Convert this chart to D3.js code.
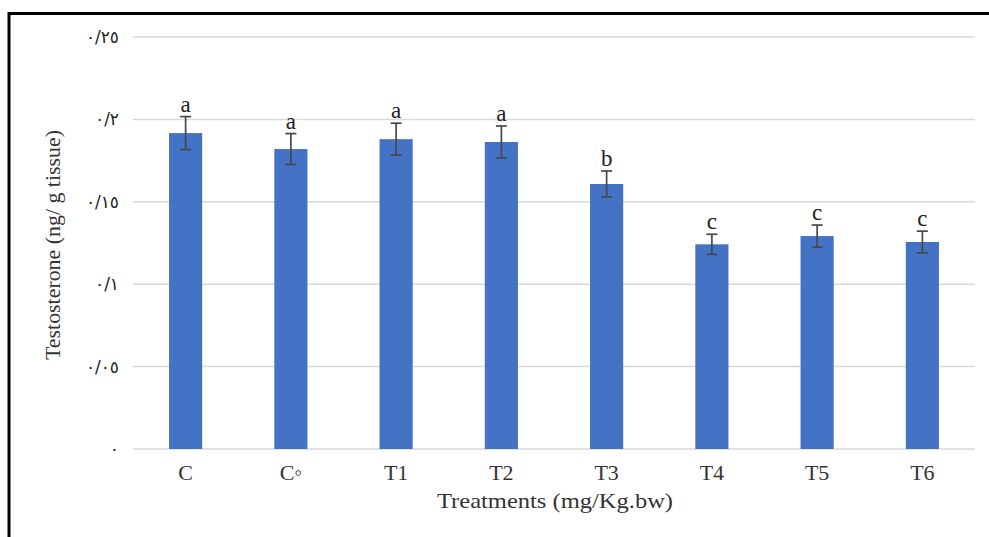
<!DOCTYPE html>
<html>
<head>
<meta charset="utf-8">
<script src="https://cdn.jsdelivr.net/npm/d3@7"></script>
<style>
  body { margin: 0; background: #fff; }
  svg text { font-family: "Liberation Serif", "Times New Roman", serif; }
</style>
</head>
<body>
<div id="chart"></div>
<script>
// data
var categories = ["C", "C\u25E6", "T1", "T2", "T3", "T4", "T5", "T6"];
var means      = [0.1917, 0.1820, 0.1880, 0.1863, 0.1608, 0.1242, 0.1292, 0.1256];
var errors     = [0.0100, 0.0094, 0.0097, 0.0097, 0.0079, 0.0061, 0.0067, 0.0066];
var letters    = ["a", "a", "a", "a", "b", "c", "c", "c"];
var yTicks     = [0, 0.05, 0.1, 0.15, 0.2, 0.25];
var yTickLabels = ["\u0660", "\u0660/\u0660\u0665", "\u0660/\u0661", "\u0660/\u0661\u0665", "\u0660/\u0662", "\u0660/\u0662\u0665"];

var width = 989, height = 537;
var margin = {left: 133, right: 14, top: 37, bottom: 88};

var svg = d3.select("#chart").append("svg")
    .attr("width", width).attr("height", height);

var x = d3.scaleBand().domain(categories)
    .range([margin.left, width - margin.right])
    .paddingInner(0.685).paddingOuter(0.3425);
var y = d3.scaleLinear().domain([0, 0.25])
    .range([height - margin.bottom, margin.top]);

// gridlines
svg.append("g").selectAll("line").data(yTicks).enter().append("line")
    .attr("x1", margin.left).attr("x2", width - margin.right)
    .attr("y1", function(d){ return y(d); }).attr("y2", function(d){ return y(d); })
    .style("stroke", "#d9d9d9").style("stroke-width", 1.5);

// y tick labels
svg.append("g").selectAll("text").data(yTicks).enter().append("text")
    .attr("x", 119).attr("y", function(d){ return y(d) + 6; })
    .attr("text-anchor", "end")
    .style("font-family", "'DejaVu Sans', sans-serif")
    .style("font-size", "17px").style("letter-spacing", "2.5px").style("fill", "#222")
    .text(function(d, i){ return yTickLabels[i]; });

// bars
svg.append("g").selectAll("rect").data(means).enter().append("rect")
    .attr("x", function(d, i){ return x(categories[i]); })
    .attr("y", function(d){ return y(d); })
    .attr("width", x.bandwidth())
    .attr("height", function(d){ return y(0) - y(d); })
    .style("fill", "#4472C4");

// error bars
var eb = svg.append("g").selectAll("g").data(means).enter().append("g")
    .style("stroke", "#484848").style("stroke-width", 1.7);
eb.append("line")
    .attr("x1", function(d, i){ return x(categories[i]) + x.bandwidth() / 2; })
    .attr("x2", function(d, i){ return x(categories[i]) + x.bandwidth() / 2; })
    .attr("y1", function(d, i){ return y(d + errors[i]); })
    .attr("y2", function(d, i){ return y(d - errors[i]); });
[1, -1].forEach(function(s){
  eb.append("line")
    .attr("x1", function(d, i){ return x(categories[i]) + x.bandwidth() / 2 - 5.5; })
    .attr("x2", function(d, i){ return x(categories[i]) + x.bandwidth() / 2 + 5.5; })
    .attr("y1", function(d, i){ return y(d + s * errors[i]); })
    .attr("y2", function(d, i){ return y(d + s * errors[i]); });
});

// significance letters
svg.append("g").selectAll("text").data(means).enter().append("text")
    .attr("x", function(d, i){ return x(categories[i]) + x.bandwidth() / 2; })
    .attr("y", function(d, i){ return y(d + errors[i]) - 5; })
    .attr("text-anchor", "middle")
    .style("font-size", "23px").style("fill", "#222")
    .text(function(d, i){ return letters[i]; });

// x axis labels
svg.append("g").selectAll("text").data(categories).enter().append("text")
    .attr("x", function(d){ return x(d) + x.bandwidth() / 2; })
    .attr("y", 480)
    .attr("text-anchor", "middle")
    .style("font-size", "22px").style("fill", "#333")
    .text(function(d){ return d; });

// axis titles
svg.append("text").attr("x", 555).attr("y", 508)
    .attr("text-anchor", "middle")
    .attr("textLength", 236).attr("lengthAdjust", "spacingAndGlyphs")
    .style("font-size", "22px").style("fill", "#333")
    .text("Treatments (mg/Kg.bw)");
svg.append("text")
    .attr("transform", "translate(60,245) rotate(-90)")
    .attr("text-anchor", "middle")
    .attr("textLength", 230).attr("lengthAdjust", "spacingAndGlyphs")
    .style("font-size", "22px").style("fill", "#333")
    .text("Testosterone (ng/ g tissue)");

// frame
svg.append("path")
    .attr("d", "M9," + height + "V13.5H" + width)
    .style("fill", "none").style("stroke", "#000").style("stroke-width", 3);
</script>
</body>
</html>
